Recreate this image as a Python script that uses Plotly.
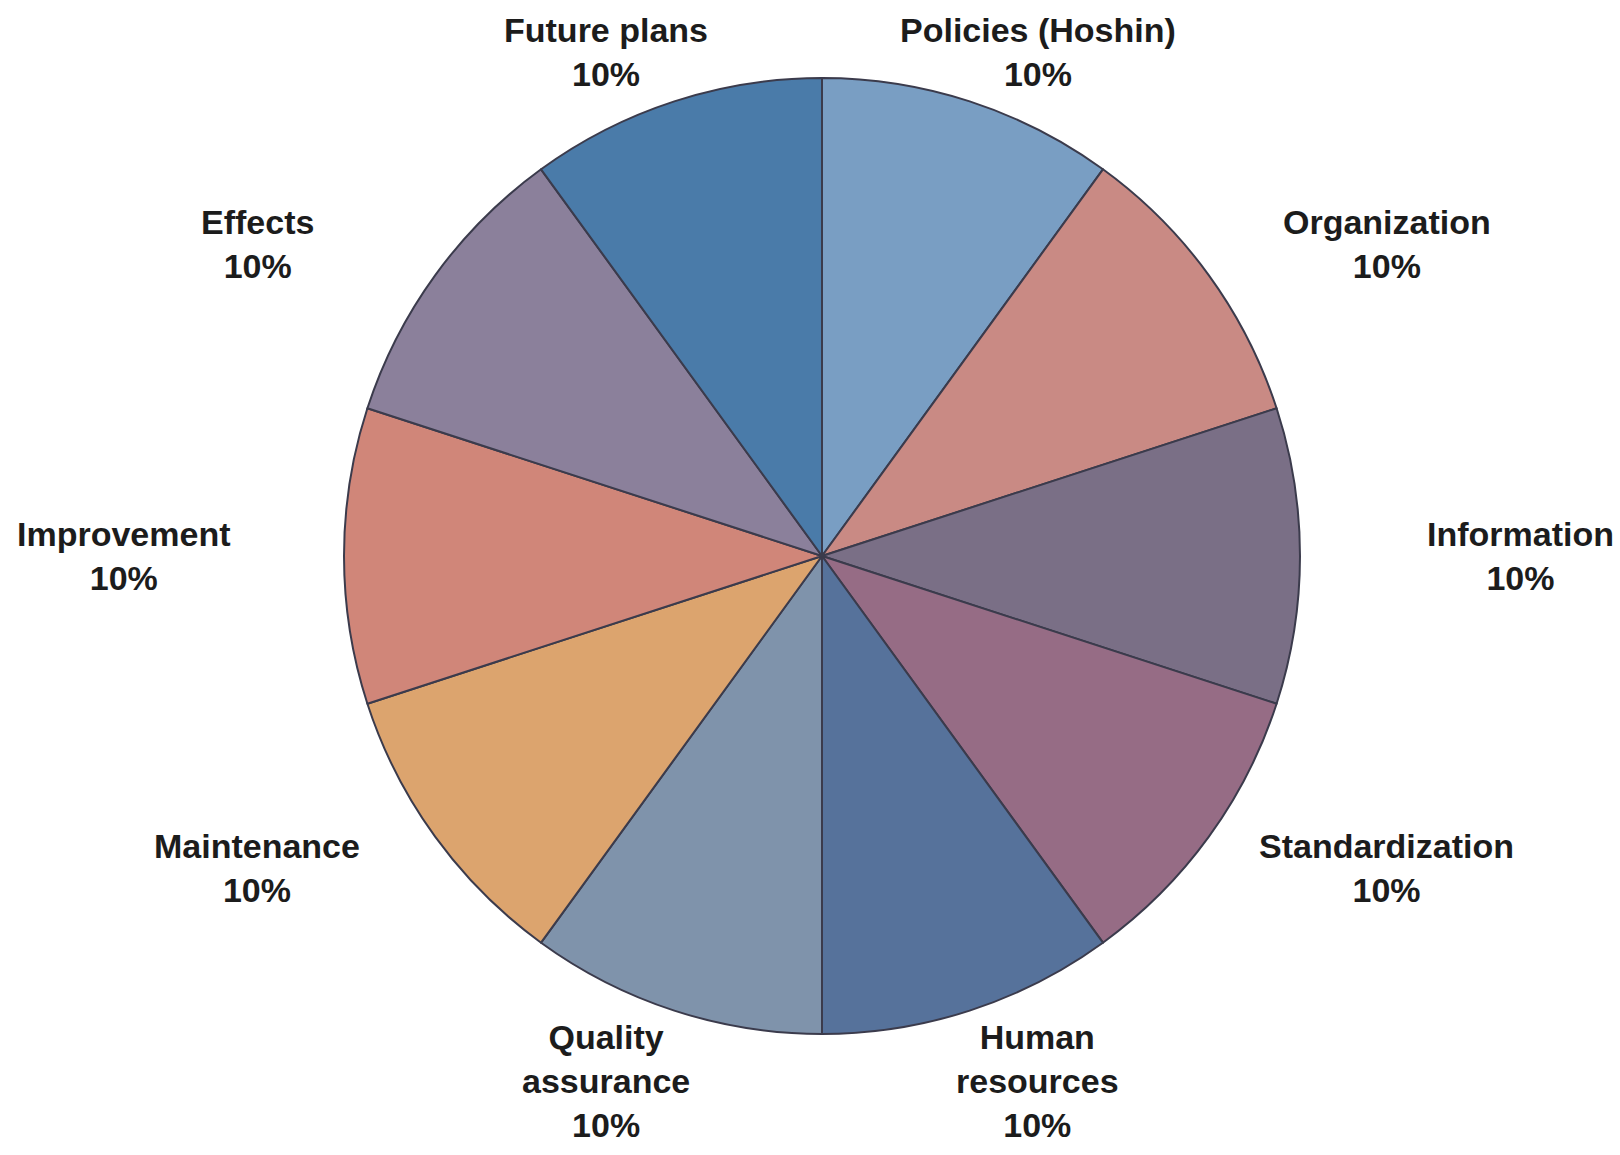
import math
import plotly.graph_objects as go

categories = ["Policies (Hoshin)", "Organization", "Information", "Standardization",
              "Human<br>resources", "Quality<br>assurance", "Maintenance",
              "Improvement", "Effects", "Future plans"]
shares = [10, 10, 10, 10, 10, 10, 10, 10, 10, 10]
colors = ["#799EC3", "#C98A84", "#7A6F86", "#966C85", "#56729B",
          "#7F93AB", "#DCA46E", "#D08679", "#8B809B", "#4A7BA9"]

W, H = 1620, 1155
cx, cy, r = 822, 556, 478          # pie centre and radius (px)
lrx, lry = 698, 530                # label ellipse radii (px)
line_h = 44                        # label line height (px)

fig = go.Figure(go.Pie(
    labels=categories,
    values=shares,
    sort=False,
    direction="clockwise",
    rotation=0,
    marker=dict(colors=colors, line=dict(color="#3b3b4c", width=2)),
    textinfo="none",
    showlegend=False,
    hoverinfo="label+percent",
    domain=dict(x=[(cx - r) / W, (cx + r) / W], y=[1 - (cy + r) / H, 1 - (cy - r) / H]),
))

total = sum(shares)
cum = 0
font = dict(family="Liberation Sans, Arial, sans-serif", size=34, color="#1c1c1c", weight="bold")
for lab, v in zip(categories, shares):
    mid = 2 * math.pi * (cum + v / 2) / total
    cum += v
    nlines = lab.count("<br>") + 2
    extra = (nlines - 2) * line_h / 2
    px = cx + lrx * math.sin(mid)
    py = cy - (lry + extra) * math.cos(mid)
    fig.add_annotation(
        x=px / W, y=1 - py / H, xref="paper", yref="paper",
        text=f"{lab}<br>{v / total:.0%}", showarrow=False,
        font=font, align="center", xanchor="center", yanchor="middle",
    )

fig.update_layout(
    width=W, height=H,
    margin=dict(l=0, r=0, t=0, b=0),
    paper_bgcolor="white",
    plot_bgcolor="white",
)

fig.write_html("out.html")
